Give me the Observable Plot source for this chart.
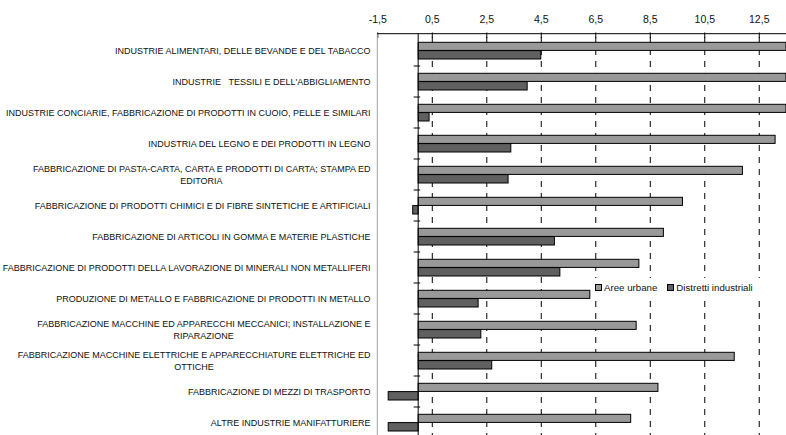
<!DOCTYPE html>
<html><head><meta charset="utf-8">
<script src="https://cdn.jsdelivr.net/npm/d3@7"></script>
<script src="https://cdn.jsdelivr.net/npm/@observablehq/plot@0.6"></script>
<style>
body{margin:0;background:#fff;}
#wrap{position:relative;width:786px;height:435px;overflow:hidden;font-family:"Liberation Sans",Arial,sans-serif;}
#legend{position:absolute;left:591px;top:278px;height:19px;padding:0 4px;background:#fff;display:flex;align-items:center;font-size:9.7px;color:#111;white-space:nowrap;}
.sw{display:inline-block;width:5px;height:5px;border:1px solid #000;margin-right:2px;}
.item{display:flex;align-items:center;margin-right:10px;}
</style></head><body><div id="wrap"><div id="legend"></div></div>
<script>
const categories = [
  "INDUSTRIE ALIMENTARI, DELLE BEVANDE E DEL TABACCO",
  "INDUSTRIE   TESSILI E DELL'ABBIGLIAMENTO",
  "INDUSTRIE CONCIARIE, FABBRICAZIONE DI PRODOTTI IN CUOIO, PELLE E SIMILARI",
  "INDUSTRIA DEL LEGNO E DEI PRODOTTI IN LEGNO",
  "FABBRICAZIONE DI PASTA-CARTA, CARTA E PRODOTTI DI CARTA; STAMPA ED\nEDITORIA",
  "FABBRICAZIONE DI PRODOTTI CHIMICI E DI FIBRE SINTETICHE E ARTIFICIALI",
  "FABBRICAZIONE DI ARTICOLI IN GOMMA E MATERIE PLASTICHE",
  "FABBRICAZIONE DI PRODOTTI DELLA LAVORAZIONE DI MINERALI NON METALLIFERI",
  "PRODUZIONE DI METALLO E FABBRICAZIONE DI PRODOTTI IN METALLO",
  "FABBRICAZIONE MACCHINE ED APPARECCHI MECCANICI; INSTALLAZIONE E\nRIPARAZIONE",
  "FABBRICAZIONE MACCHINE ELETTRICHE E APPARECCHIATURE ELETTRICHE ED\nOTTICHE",
  "FABBRICAZIONE DI MEZZI DI TRASPORTO",
  "ALTRE INDUSTRIE MANIFATTURIERE"
];
const urbanValues = [14.6, 14.9, 15.5, 13.1, 11.9, 9.7, 9.0, 8.1, 6.3, 8.0, 11.6, 8.8, 7.8];
const districtValues = [4.5, 4.0, 0.4, 3.4, 3.3, -0.2, 5.0, 5.2, 2.2, 2.3, 2.7, -1.1, -1.1];
const xTicks = [-1.5, 0.5, 2.5, 4.5, 6.5, 8.5, 10.5, 12.5];
const seriesNames = ["Aree urbane", "Distretti industriali"];
const seriesColors = ["#999999", "#606060"];

const labelFont = 9;
const fontFam = "'Liberation Sans', Arial, sans-serif";
const ctx = document.createElement("canvas").getContext("2d");
ctx.font = `${labelFont}px ${fontFam}`;

const rows = categories.map((c, i) => {
  const [line1, line2] = c.split("\n");
  return {cat: c, line1, line2, urban: urbanValues[i], district: districtValues[i], w1: ctx.measureText(line1).width};
});
const single = rows.filter(r => !r.line2);
const double = rows.filter(r => r.line2);
const fmt = d => d.toFixed(1).replace(".", ",");

function axisLines(index, scales, values, dims) {
  const {x, y} = scales;
  const g = d3.create("svg:g").attr("fill", "none");
  const top = y.range()[0], bottom = dims.height;
  const xl = x(-1.5), x0 = x(0);
  g.append("line").attr("x1", xl).attr("x2", xl).attr("y1", top).attr("y2", bottom).attr("stroke", "#a0a0a0");
  g.append("line").attr("x1", xl).attr("x2", dims.width).attr("y1", top).attr("y2", top).attr("stroke", "#000");
  g.append("line").attr("x1", x0).attr("x2", x0).attr("y1", top).attr("y2", bottom).attr("stroke", "#000");
  for (let i = 1; i <= categories.length; i++) {
    const yy = i < categories.length ? y(categories[i]) : y(categories[i-1]) + y.step();
    g.append("line").attr("x1", x0 - 4.5).attr("x2", x0 + 2).attr("y1", yy).attr("y2", yy).attr("stroke", "#000");
  }
  return g.node();
}

const chart = Plot.plot({
  width: 786, height: 435,
  marginLeft: 377.3, marginRight: 0, marginTop: 37, marginBottom: 0,
  style: {fontFamily: fontFam, background: "transparent", overflow: "hidden", whiteSpace: "pre", color: "#111"},
  x: {domain: [-1.5, 13.5], clamp: true, axis: null},
  y: {domain: categories, range: [33.7, 440.2], padding: 0, axis: null},
  marks: [
    Plot.ruleX(xTicks.slice(1), {stroke: "#000", strokeWidth: 1, strokeDasharray: "6,6"}),
    Plot.axisX(xTicks, {anchor: "top", tickSize: 5.5, tickPadding: 9, tickFormat: fmt, fontSize: 10.5, stroke: "#000"}),
    Plot.barX(rows, {x: "urban", y: "cat", fill: seriesColors[0], stroke: "#000", strokeWidth: 1, insetTop: 7.3, insetBottom: 15.6}),
    Plot.barX(rows, {x: "district", y: "cat", fill: seriesColors[1], stroke: "#000", strokeWidth: 1, insetTop: 15.6, insetBottom: 7}),
    axisLines,
    Plot.text(single, {y: "cat", text: "line1", frameAnchor: "left", textAnchor: "end", dx: -7.3, fontSize: labelFont, fill: "#111"}),
    Plot.text(double, {y: "cat", text: "line1", frameAnchor: "left", textAnchor: "end", dx: -7.3, dy: -6, fontSize: labelFont, fill: "#111"}),
    ...double.map(r => Plot.text([r], {y: "cat", text: "line2", frameAnchor: "left", textAnchor: "middle", dx: -7.3 - r.w1 / 2, dy: 6, fontSize: labelFont, fill: "#111"}))
  ]
});
const wrap = document.getElementById("wrap");
wrap.insertBefore(chart, wrap.firstChild);

const legend = document.getElementById("legend");
seriesNames.forEach((n, i) => {
  const it = document.createElement("span"); it.className = "item";
  const sw = document.createElement("span"); sw.className = "sw"; sw.style.background = seriesColors[i];
  it.appendChild(sw); it.appendChild(document.createTextNode(n));
  legend.appendChild(it);
});
</script></body></html>
